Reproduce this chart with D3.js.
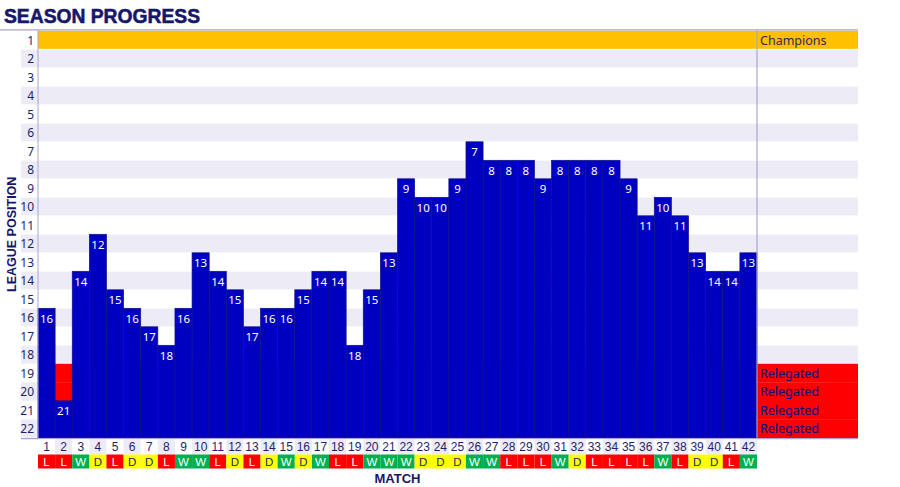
<!DOCTYPE html>
<html>
<head>
<meta charset="utf-8">
<script src="https://cdn.jsdelivr.net/npm/d3@7"></script>
<style>
  html, body { margin: 0; padding: 0; background: #fff; }
  svg { display: block; font-family: "Noto Sans", "Liberation Sans", sans-serif; }
</style>
</head>
<body>
<svg id="chart" width="900" height="487"></svg>
<script>
// ---- data ----
const matches = d3.range(1, 43);
const positions = [16, 21, 14, 12, 15, 16, 17, 18, 16, 13, 14, 15, 17, 16, 16, 15, 14, 14, 18, 15, 13,
                   9, 10, 10, 9, 7, 8, 8, 8, 9, 8, 8, 8, 8, 9, 11, 10, 11, 13, 14, 14, 13];
const results = ["L","L","W","D","L","D","D","L","W","W","L","D","L","D","W","D","W","L","L","W","W",
                 "W","D","D","D","W","W","L","L","L","W","D","L","L","L","L","W","L","D","D","L","W"];
const leaguePositions = d3.range(1, 23);
const championRows = [1];
const relegationRows = [19, 20, 21, 22];

// ---- layout ----
const svg = d3.select("#chart");
const axisLeft = 21, plotLeft = 38, plotRight = 757, labelRight = 858;
const plotTop = 30.8, rowH = 18.5;
const plotBottom = plotTop + rowH * leaguePositions.length;
const numTop = 439.5, numH = 15, resTop = 454.5, resH = 14;

const x = d3.scaleBand().domain(matches).range([plotLeft, plotRight]).padding(0);
const y = d3.scaleBand().domain(leaguePositions).range([plotTop, plotBottom]).padding(0);

const navy = "#1f1f6b";
const lavender = "#edebf6";
const resultColor = { W: "#00b050", D: "#ffff00", L: "#ff0000" };
const resultText = { W: "#ffffff", D: "#1f1f6b", L: "#ffffff" };
const cellFont = "'Liberation Sans', Arial, sans-serif";

// row bands
svg.append("g").selectAll("rect").data(leaguePositions).join("rect")
  .attr("x", axisLeft).attr("width", labelRight - axisLeft)
  .attr("y", d => y(d)).attr("height", y.bandwidth())
  .attr("fill", d => d % 2 === 0 ? lavender : "#ffffff");

// thin white separators between rows (not in the relegation zone)
svg.append("g").selectAll("line").data(leaguePositions.slice(1).filter(d => d < 19)).join("line")
  .attr("x1", axisLeft).attr("x2", labelRight)
  .attr("y1", d => y(d)).attr("y2", d => y(d))
  .attr("stroke", "#ffffff").attr("stroke-opacity", 0.7).attr("stroke-width", 0.8);

// champions / relegation zones
svg.append("g").selectAll("rect").data(championRows).join("rect")
  .attr("x", plotLeft).attr("width", labelRight - plotLeft)
  .attr("y", d => y(d)).attr("height", y.bandwidth() - 0.5)
  .attr("fill", "#ffc000");
svg.append("g").selectAll("rect").data(relegationRows).join("rect")
  .attr("x", plotLeft).attr("width", labelRight - plotLeft)
  .attr("y", d => y(d)).attr("height", y.bandwidth() + 0.3)
  .attr("fill", "#ff0000");

// zone labels
svg.append("text").attr("x", plotRight + 3).attr("y", y(1) + rowH / 2)
  .attr("dominant-baseline", "central").attr("font-size", 12.5).attr("fill", "#2a2a5a")
  .text("Champions");
svg.append("g").selectAll("text").data(relegationRows).join("text")
  .attr("x", plotRight + 3).attr("y", d => y(d) + rowH / 2)
  .attr("dominant-baseline", "central").attr("font-size", 12.5).attr("fill", "#12127e")
  .attr("stroke", "#12127e").attr("stroke-width", 0.2)
  .text("Relegated");

// bars
const data = matches.map((m, i) => ({ m, pos: positions[i], res: results[i] }));
svg.append("g").selectAll("rect").data(data).join("rect")
  .attr("x", d => x(d.m)).attr("width", x.bandwidth())
  .attr("y", d => y(d.pos)).attr("height", d => plotBottom - y(d.pos))
  .attr("fill", "#0000c0").attr("stroke", "#12128a").attr("stroke-width", 0.7);

// bar labels
svg.append("g").selectAll("text").data(data).join("text")
  .attr("x", d => x(d.m) + x.bandwidth() / 2).attr("y", d => y(d.pos) + rowH / 2 + 0.5)
  .attr("text-anchor", "middle").attr("dominant-baseline", "central")
  .attr("font-size", 11.5).attr("fill", "#ffffff")
  .text(d => d.pos);

// frame lines
const frame = "#a9a6cf";
svg.append("line").attr("x1", 0).attr("x2", labelRight).attr("y1", 29.8).attr("y2", 29.8)
  .attr("stroke", frame).attr("stroke-width", 1.2);
svg.append("line").attr("x1", plotLeft).attr("x2", plotLeft).attr("y1", 29.8).attr("y2", numTop)
  .attr("stroke", frame).attr("stroke-width", 1);
svg.append("line").attr("x1", plotRight).attr("x2", plotRight).attr("y1", 29.8).attr("y2", plotBottom)
  .attr("stroke", frame).attr("stroke-width", 1.2);
svg.append("line").attr("x1", axisLeft).attr("x2", labelRight).attr("y1", plotBottom + 0.8).attr("y2", plotBottom + 0.8)
  .attr("stroke", frame).attr("stroke-width", 1.2);

// y axis tick labels
const yAxis = d3.axisLeft(y).tickSize(0).tickPadding(4);
const gy = svg.append("g").attr("transform", `translate(${plotLeft},0)`).call(yAxis);
gy.select(".domain").remove();
gy.selectAll("text").attr("font-size", 12).attr("fill", navy)
  .attr("font-family", "'Noto Sans', sans-serif").attr("dy", "0.4em");

// match number row
svg.append("g").selectAll("rect").data(matches).join("rect")
  .attr("x", d => x(d)).attr("width", x.bandwidth())
  .attr("y", numTop).attr("height", numH)
  .attr("fill", d => d % 2 === 0 ? lavender : "#ffffff");
const xAxis = d3.axisBottom(x).tickSize(0).tickPadding(0);
const gx = svg.append("g").attr("transform", `translate(0,${numTop + numH / 2})`).call(xAxis);
gx.select(".domain").remove();
gx.selectAll("text").attr("font-size", 12).attr("fill", navy)
  .attr("font-family", cellFont).attr("y", 0).attr("dy", null)
  .attr("dominant-baseline", "central");

// result row
svg.append("g").selectAll("rect").data(data).join("rect")
  .attr("x", d => x(d.m)).attr("width", x.bandwidth())
  .attr("y", resTop).attr("height", resH)
  .attr("fill", d => resultColor[d.res]);
svg.append("g").selectAll("text").data(data).join("text")
  .attr("x", d => x(d.m) + x.bandwidth() / 2).attr("y", resTop + resH / 2 + 0.5)
  .attr("text-anchor", "middle").attr("dominant-baseline", "central")
  .attr("font-family", cellFont)
  .attr("font-size", 11.5).attr("fill", d => resultText[d.res])
  .text(d => d.res);

// titles
svg.append("text").attr("x", 4).attr("y", 23)
  .attr("font-size", 21).attr("font-weight", 800).attr("fill", "#171768")
  .attr("stroke", "#171768").attr("stroke-width", 0.6)
  .attr("font-family", "'Liberation Sans', Arial, sans-serif")
  .attr("textLength", 196).attr("lengthAdjust", "spacingAndGlyphs")
  .text("SEASON PROGRESS");
svg.append("text").attr("transform", `translate(15.5,${(plotTop + plotBottom) / 2}) rotate(-90)`)
  .attr("text-anchor", "middle").attr("font-size", 12.5).attr("font-weight", 700)
  .attr("fill", "#171768").attr("font-family", "'Liberation Sans', Arial, sans-serif")
  .text("LEAGUE POSITION");
svg.append("text").attr("x", (plotLeft + plotRight) / 2).attr("y", 483)
  .attr("text-anchor", "middle").attr("font-size", 13).attr("font-weight", 700)
  .attr("fill", "#171768").attr("font-family", "'Liberation Sans', Arial, sans-serif")
  .text("MATCH");
</script>
</body>
</html>
